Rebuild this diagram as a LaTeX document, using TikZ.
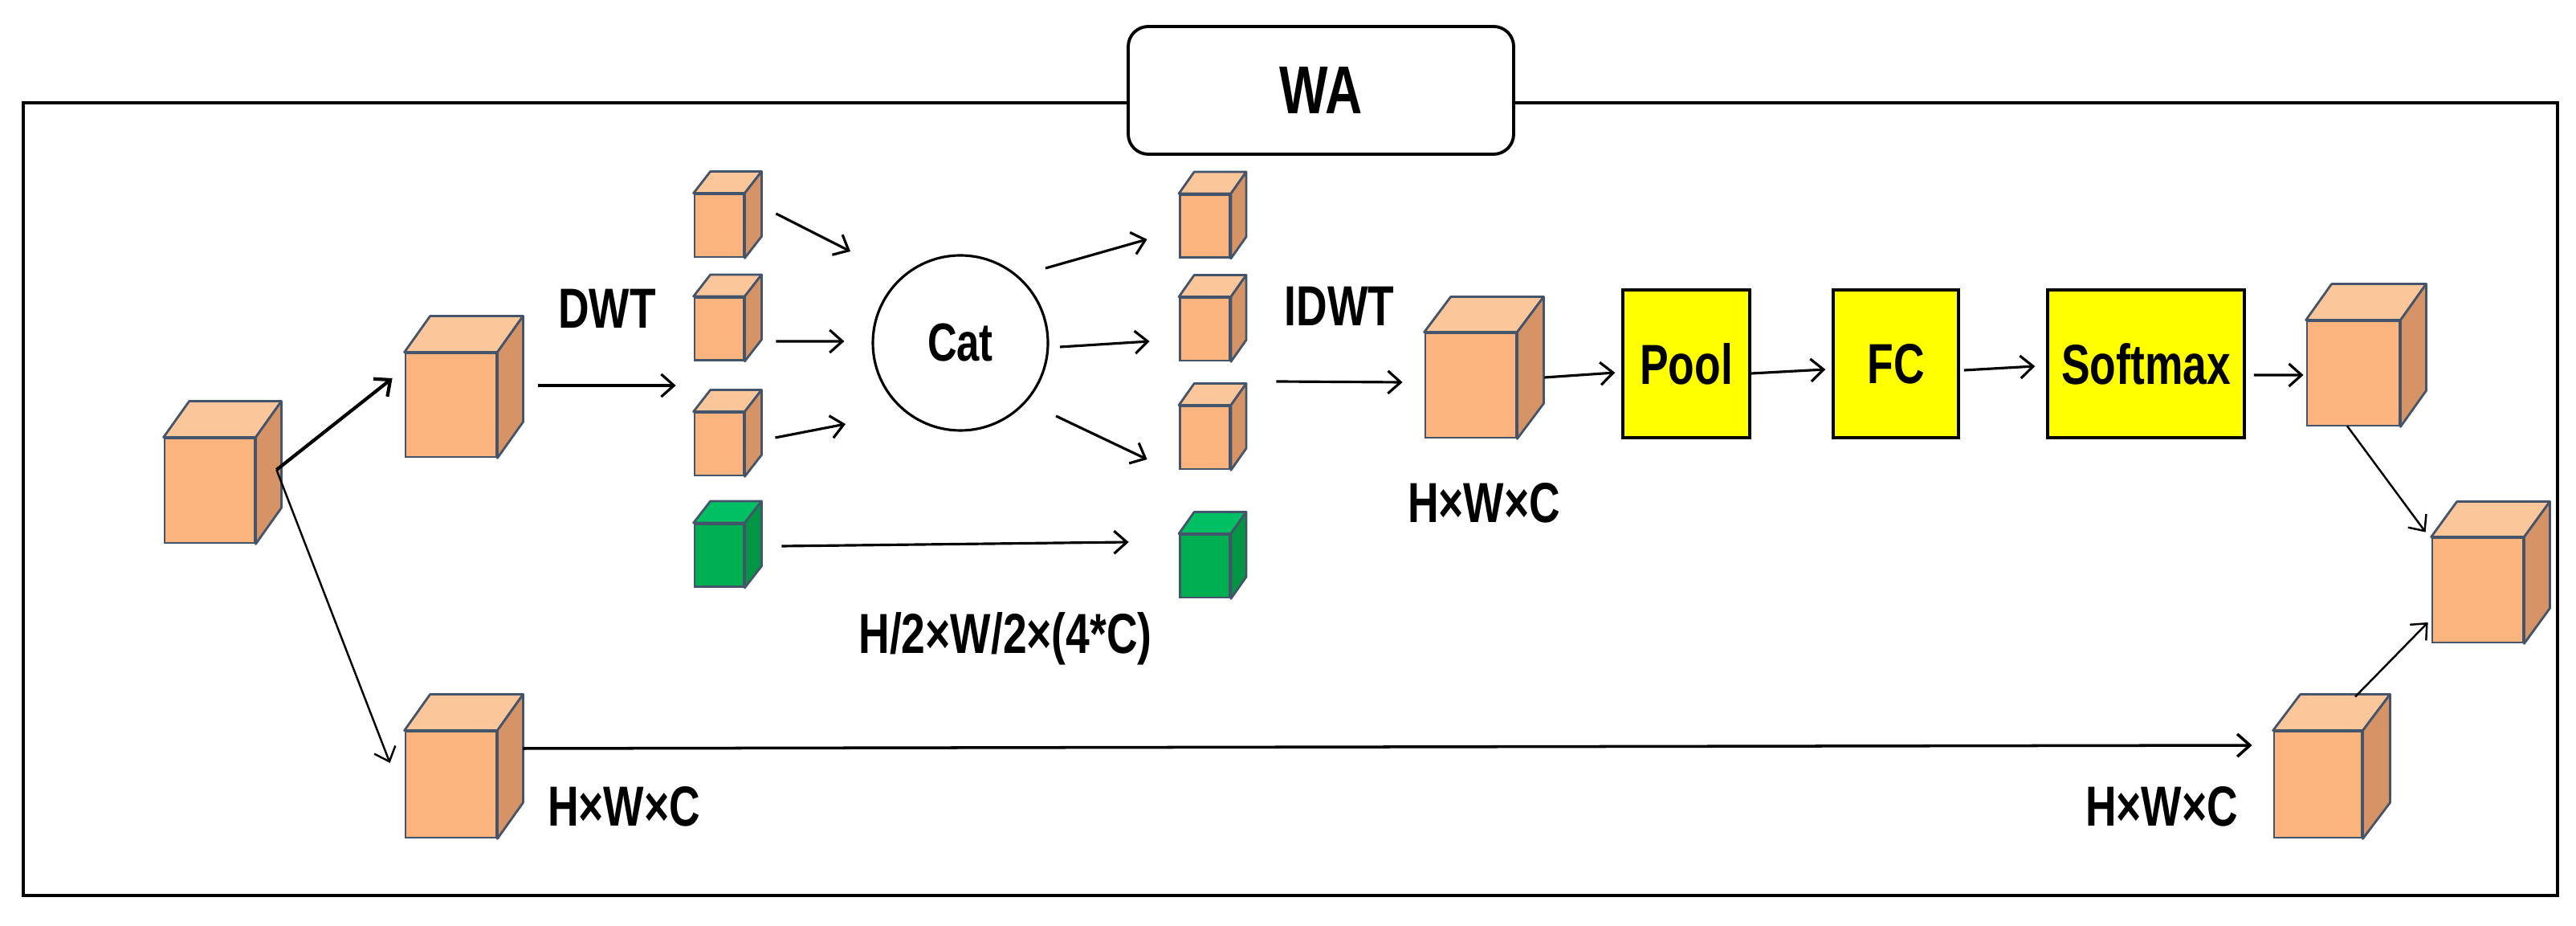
\documentclass[tikz,border=0pt]{standalone}
\usepackage{fontspec}
\setmainfont{Liberation Sans}[FakeStretch=0.76]
\usetikzlibrary{arrows.meta}

\definecolor{orfront}{RGB}{251,180,126}
\definecolor{ortop}{RGB}{252,198,155}
\definecolor{orside}{RGB}{214,148,102}
\definecolor{grfront}{RGB}{0,176,80}
\definecolor{grtop}{RGB}{0,192,100}
\definecolor{grside}{RGB}{0,150,68}
\definecolor{cubeline}{RGB}{68,84,106}
\definecolor{opyellow}{RGB}{255,255,0}

\tikzset{
    cubeface/.style={draw=cubeline, line width=0.8pt, inner sep=0pt},
    cubeedge/.style={draw=cubeline, line width=0.8pt, line join=round},
    lbl/.style={font=\bfseries\fontsize{20}{24}\selectfont, inner sep=0pt},
    opbox/.style={draw=black, line width=1pt, fill=opyellow, minimum height=1.84cm,
        font=\bfseries\fontsize{20}{24}\selectfont},
    titlebox/.style={draw, rounded corners=0.25cm, fill=white, line width=1.1pt,
        minimum width=4.80cm, minimum height=1.59cm, font=\bfseries\fontsize{24}{28}\selectfont},
}

% #1 name, #2 centre of front face, #3 width, #4 height, #5 depth offset, #6 colour prefix
\newcommand{\featcube}[6]{%
    \node[cubeface, fill=#6front, minimum width=#3, minimum height=#4] (#1) at #2 {};
    \filldraw[cubeedge, fill=#6top] (#1.north west) -- ++(#5) -- ([shift={(#5)}]#1.north east) -- (#1.north east) -- cycle;
    \filldraw[cubeedge, fill=#6side] (#1.north east) -- ++(#5) -- ([shift={(#5)}]#1.south east) -- (#1.south east) -- cycle;
}

\begin{document}
\begin{tikzpicture}[>={Straight Barb[length=4.5pt,width=8pt]}, line width=0.9pt]
    \useasboundingbox (0,0) rectangle (32.08,11.52);

    \draw[line width=1.1pt] (0.29,0.37) rectangle (31.85,10.24);
    \node[titlebox] (wa) at (16.45,10.395) {WA};

    % feature maps
    \featcube{inp}{(2.61,5.41)}{1.12cm}{1.30cm}{0.32,0.45}{or}
    \featcube{up}{(5.615,6.475)}{1.13cm}{1.29cm}{0.32,0.45}{or}
    \featcube{low}{(5.615,1.75)}{1.13cm}{1.32cm}{0.32,0.45}{or}

    \featcube{s1a}{(8.955,8.71)}{0.61cm}{0.78cm}{0.21,0.27}{or}
    \featcube{s1b}{(8.955,7.425)}{0.61cm}{0.78cm}{0.21,0.27}{or}
    \featcube{s1c}{(8.955,5.99)}{0.61cm}{0.78cm}{0.21,0.27}{or}
    \featcube{g1}{(8.955,4.605)}{0.61cm}{0.78cm}{0.21,0.27}{gr}

    \featcube{s2a}{(15.005,8.705)}{0.62cm}{0.78cm}{0.19,0.27}{or}
    \featcube{s2b}{(15.005,7.42)}{0.62cm}{0.78cm}{0.19,0.27}{or}
    \featcube{s2c}{(15.005,6.07)}{0.62cm}{0.78cm}{0.19,0.27}{or}
    \featcube{g2}{(15.005,4.47)}{0.62cm}{0.78cm}{0.19,0.27}{gr}

    \featcube{mid}{(18.315,6.72)}{1.13cm}{1.30cm}{0.33,0.44}{or}
    \featcube{att}{(29.305,6.87)}{1.15cm}{1.30cm}{0.32,0.45}{or}
    \featcube{out}{(30.855,4.17)}{1.13cm}{1.30cm}{0.32,0.44}{or}
    \featcube{lowR}{(28.865,1.75)}{1.09cm}{1.32cm}{0.34,0.45}{or}

    \node[draw, circle, minimum size=2.18cm, font=\bfseries\fontsize{19}{22}\selectfont] (cat) at (11.96,7.25) {Cat};

    \node[opbox, minimum width=1.58cm] (pool) at (21.0,6.99) {Pool};
    \node[opbox, minimum width=1.56cm] (fc) at (23.61,6.99) {FC};
    \node[opbox, minimum width=2.45cm] (soft) at (26.725,6.99) {Softmax};

    % connectors
    \coordinate (split) at ([shift={(0.26,0.26)}]inp.east);
    \draw[->, line width=1.2pt] (split) -- ([shift={(-0.15,0.335)}]up.west);
    \draw[->, line width=0.7pt] (split) -- ([shift={(-0.18,0.27)}]low.west);

    \draw[->] ([shift={(0.51,0.245)}]up.east) -- ([shift={(-0.22,0.73)}]s1c.west)
        node[midway, above=0.7cm, lbl] (dwt) {DWT};

    \draw[->] ([shift={(0.39,0.15)}]s1a.east) -- ([shift={(-1.37,1.14)}]cat.center);
    \draw[->] ([shift={(0.39,-0.155)}]s1b.east) -- ([shift={(-0.34,0.02)}]cat.west);
    \draw[->] ([shift={(0.38,0.08)}]s1c.east) -- ([shift={(-1.43,-1.01)}]cat.center);

    \draw[->] ([shift={(1.06,0.93)}]cat.center) -- ([shift={(-0.395,-0.165)}]s2a.west);
    \draw[->] ([shift={(1.24,-0.05)}]cat.center) -- ([shift={(-0.365,-0.15)}]s2b.west);
    \draw[->] ([shift={(1.19,-0.91)}]cat.center) -- ([shift={(-0.395,-0.27)}]s2c.west);

    \draw[->] ([shift={(0.46,0.115)}]g1.east) -- ([shift={(-0.625,0.30)}]g2.west);
    \node[lbl] (half) at (12.52,3.57) {H/2×W/2×(4*C)};

    \draw[->] ([shift={(0.565,0.70)}]s2c.east) -- ([shift={(-0.27,0.04)}]mid.west)
        node[midway, above=0.68cm, lbl] (idwt) {IDWT};
    \node[lbl] (dimmid) at (18.48,5.26) {H×W×C};

    \draw[->] ([shift={(0.34,0.10)}]mid.east) -- ([shift={(-0.08,-0.11)}]pool.west);
    \draw[->] ([shift={(0,-0.12)}]pool.east) -- ([shift={(-0.08,-0.07)}]fc.west);
    \draw[->] ([shift={(0.05,-0.08)}]fc.east) -- ([shift={(-0.14,-0.03)}]soft.west);
    \draw[->] ([shift={(0.10,-0.14)}]soft.east) -- ([shift={(-0.03,-0.02)}]att.west);

    \draw[->, line width=0.7pt] ([shift={(-0.075,0.01)}]att.south) -- ([shift={(-0.07,0.06)}]out.north west);
    \draw[->, line width=0.7pt] ([shift={(0.465,0.42)}]lowR.north) -- ([shift={(-0.04,-0.40)}]out.west);

    \draw[->, line width=1pt] ([shift={(0.32,0.45)}]low.east) -- ([shift={(-0.26,0.49)}]lowR.west);
    \node[lbl] (dimlow) at (7.77,1.48) {H×W×C};
    \node[lbl] (dimlowR) at (26.92,1.48) {H×W×C};
\end{tikzpicture}
\end{document}
